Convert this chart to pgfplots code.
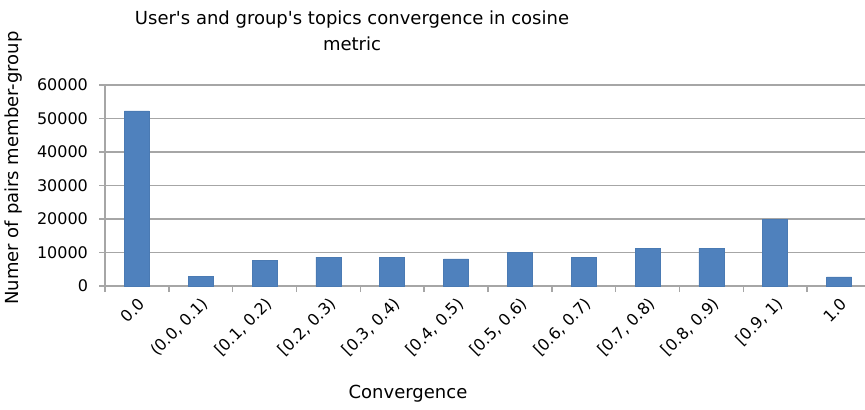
\documentclass[border=0pt]{standalone}
\usepackage{pgfplots}
\pgfplotsset{compat=1.18}
\usepackage{fontspec}
\setmainfont{DejaVu Sans}
\definecolor{barblue}{HTML}{4F81BD}
\definecolor{bardark}{HTML}{4A7AB3}
\definecolor{gridgray}{HTML}{A6A6A6}
\begin{document}
\begin{tikzpicture}[x=1pt,y=1pt]
\path[use as bounding box] (0,0) rectangle (432.5,204.5);
\clip (0,0) rectangle (432.5,204.5);
\begin{axis}[
  at={(52.5pt,61.5pt)}, anchor=south west,
  scale only axis, width=383pt, height=100.5pt,
  xmin=-0.5, xmax=11.5, ymin=0, ymax=60000,
  ybar, bar width=12.5pt, bar shift=0pt,
  axis x line*=bottom, axis y line*=left,
  axis line style={gridgray, line width=0.8pt},
  xtick={0,...,11},
  xticklabels={0.0,{(0.0, 0.1)},{[0.1, 0.2)},{[0.2, 0.3)},{[0.3, 0.4)},{[0.4, 0.5)},{[0.5, 0.6)},{[0.6, 0.7)},{[0.7, 0.8)},{[0.8, 0.9)},{[0.9, 1)},1.0},
  minor xtick={-0.5,0.5,...,11.5},
  major x tick style={draw=none},
  minor x tick style={gridgray, line width=0.8pt},
  minor tick length=3pt,
  major tick length=3pt,
  tick align=outside,
  ytick={0,10000,...,60000},
  y tick style={gridgray, line width=0.8pt},
  ymajorgrids, grid style={gridgray, line width=0.8pt},
  scaled y ticks=false,
  /pgf/number format/.cd, 1000 sep={}, assume math mode=true,
  /pgfplots/.cd,
  tick label style={font=\fontsize{8}{9}\selectfont},
  xticklabel style={rotate=45, anchor=east, xshift=2pt, yshift=-5pt},
  yticklabel style={xshift=-2pt},
]
\addplot[fill=barblue, draw=bardark, line width=0.3pt] coordinates {
(0,52300) (1,2800) (2,7700) (3,8600) (4,8600) (5,8100) (6,10100) (7,8600) (8,11250) (9,11250) (10,20000) (11,2700)
};
\end{axis}
\node[font=\fontsize{9}{13}\selectfont, align=center] at (176,189) {User\textquotesingle s and group\textquotesingle s topics convergence in cosine\\metric};
\node[font=\fontsize{9}{10}\selectfont] at (204,7.5) {Convergence};
\node[font=\fontsize{9}{10}\selectfont, rotate=90] at (7,120.5) {Numer of pairs member-group};
\end{tikzpicture}
\end{document}
